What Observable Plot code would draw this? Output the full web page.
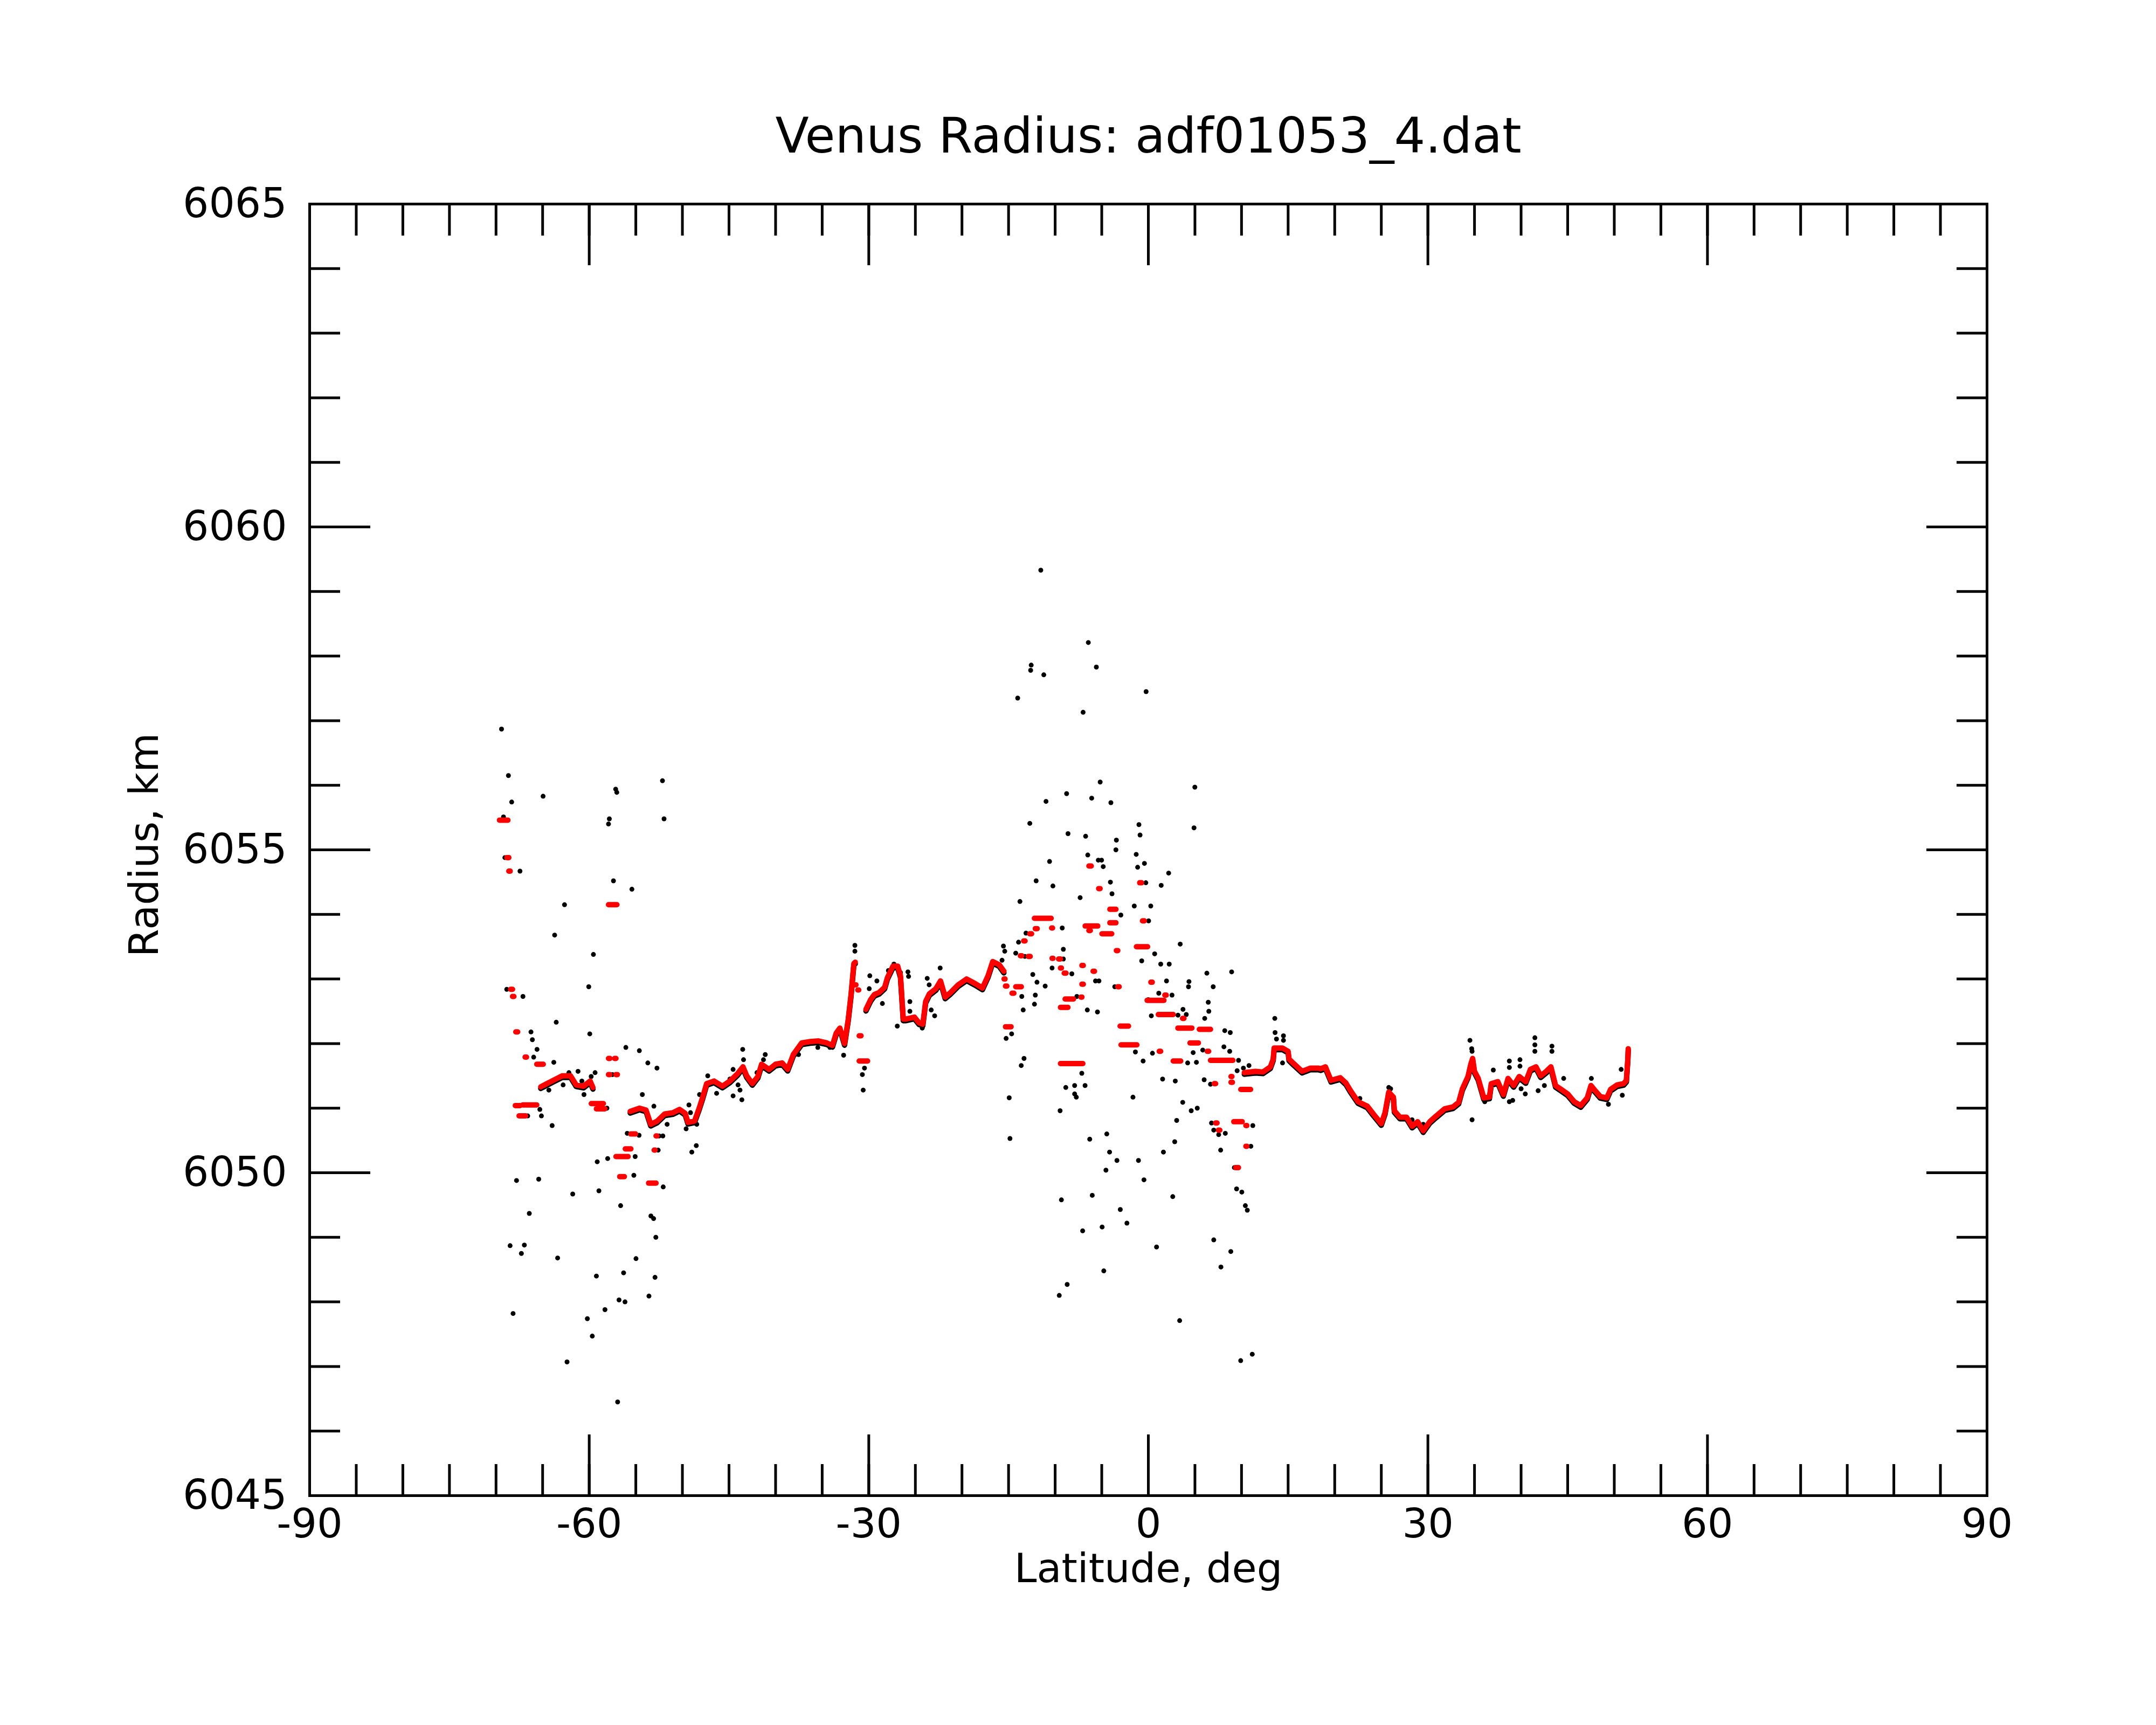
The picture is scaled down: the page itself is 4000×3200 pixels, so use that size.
<!DOCTYPE html>
<html><head><meta charset="utf-8">
<script src="https://cdn.jsdelivr.net/npm/d3@7"></script>
<script src="https://cdn.jsdelivr.net/npm/@observablehq/plot@0.6"></script>
<style>html,body{margin:0;padding:0;background:#fff;}</style>
</head><body><div id="chart"></div>
<script>
// Main continuous trace (null = gap)
const traceLat = [
-65.2,-64.0,-62.9,-62.0,-61.4,-60.6,-59.9,-59.6, null,
-55.6,-54.6,-53.9,-53.4,-52.7,-51.9,-51.0,-50.3,-49.7,-49.4,-48.7,-48.2,-47.8,-47.4,-46.6,-45.7,-44.9,-44.1,-43.5,-43.1,-42.5,-41.9,-41.5,-40.7,-40.0,-39.3,-38.7,-38.1,-37.2,-36.3,-35.4,-34.5,-33.9,-33.5,-33.1,-32.6,-32.2,-31.9,-31.6,-31.45, null,
-30.3,-29.8,-29.4,-28.9,-28.3,-28.0,-27.4,-26.9,-26.6,-26.3,-26.0,-25.1,-24.6,-24.2,-23.9,-23.5,-22.8,-22.3,-21.8,-21.3,-20.4,-19.5,-18.6,-17.8,-17.2,-16.7,-16.0,-15.5, null,
10.3,11.5,12.3,13.1,13.4,13.5,14.4,15.0,15.1,15.6,16.5,17.4,18.2,18.5,19.0,19.6,20.6,21.2,21.7,22.5,23.5,24.2,25.0,25.4,25.8,26.3,26.4,27.0,27.7,28.3,28.9,29.5,30.2,30.9,31.8,32.7,33.3,33.7,34.3,34.6,34.8,35.0,35.4,36.0,36.6,36.8,37.5,38.1,38.6,39.2,39.8,40.5,41.0,41.6,42.1,42.7,43.2,43.7,44.3,45.0,45.7,46.4,47.1,47.5,47.9,48.5,49.2,49.6,50.3,51.0,51.3,51.35,51.45,51.5
];
const traceRad = [
6051.33,6051.42,6051.50,6051.50,6051.36,6051.34,6051.42,6051.32, null,
6050.95,6051.00,6050.97,6050.75,6050.80,6050.91,6050.93,6050.98,6050.92,6050.78,6050.80,6051.00,6051.18,6051.38,6051.42,6051.34,6051.42,6051.53,6051.64,6051.50,6051.38,6051.49,6051.68,6051.60,6051.68,6051.70,6051.60,6051.83,6052.01,6052.03,6052.04,6052.01,6051.97,6052.16,6052.24,6052.00,6052.38,6052.76,6053.24,6053.26, null,
6052.53,6052.68,6052.76,6052.79,6052.87,6053.02,6053.20,6053.20,6053.05,6052.38,6052.38,6052.41,6052.32,6052.30,6052.65,6052.77,6052.85,6052.97,6052.72,6052.78,6052.91,6053.00,6052.93,6052.86,6053.05,6053.27,6053.22,6053.12, null,
6051.55,6051.57,6051.56,6051.64,6051.76,6051.93,6051.93,6051.88,6051.76,6051.69,6051.57,6051.62,6051.62,6051.61,6051.64,6051.43,6051.47,6051.39,6051.27,6051.10,6051.03,6050.90,6050.76,6050.93,6051.25,6051.17,6050.96,6050.86,6050.86,6050.72,6050.79,6050.65,6050.79,6050.88,6050.99,6051.02,6051.09,6051.30,6051.49,6051.68,6051.77,6051.57,6051.46,6051.16,6051.17,6051.38,6051.41,6051.21,6051.46,6051.35,6051.49,6051.41,6051.60,6051.64,6051.50,6051.57,6051.64,6051.35,6051.29,6051.22,6051.10,6051.04,6051.16,6051.35,6051.28,6051.18,6051.16,6051.29,6051.36,6051.38,6051.43,6051.54,6051.75,6051.92
];

// Red runs of points at one radius (start lat, end lat, radius)
const redLat1 = [-69.6,-68.8,-68.6,-68.4,-68.2,-67.85,-66.85,-65.6,-67.9,-67.1,-67.5,-57.9,-59.75,-59.2,-57.9,-57.25,-57.9,-57.1,-56.7,-57.1,-56.1,-55.5,-53.6,-53.0,-52.8,-31.0,-31.45,-31.15,-31.0,
 -15.3,-15.3,-15.45,-14.2,-14.6,-13.7,-12.85,-13.35,-12.7,-12.1,-12.2,-10.35,-10.3,-9.6,-9.4,-9.0,-8.9,-9.4,-9.4,-7.1,-7.1,-5.9,-7.2,-6.75,-4.95,-6.35,-4.1,-4.1,-6.35,-5.3,-3.4,-1.25,-0.9,-0.6,-3.25,-3.0,-2.9,
 0.3,-0.1,1.1,1.8,1.2,2.7,3.7,3.2,4.5,5.5,6.35,6.7,7.1,8.9,8.9,9.95,9.2,7.25,7.55,10.5,10.5,9.4];
const redLat2 = [-68.7,-68.6,-68.45,-68.2,-68.05,-67.65,-66.7,-64.9,-67.4,-65.6,-66.8,-57.0,-58.45,-58.3,-57.75,-57.1,-57.75,-56.95,-56.2,-55.8,-55.5,-55.0,-52.8,-52.9,-52.7,-30.1,-31.35,-31.05,-30.8,
 -14.7,-15.15,-15.35,-13.6,-14.4,-13.55,-12.65,-13.2,-12.5,-11.9,-10.4,-10.25,-10.2,-9.4,-9.3,-8.8,-8.0,-8.6,-7.0,-6.95,-6.95,-5.75,-7.1,-5.4,-3.9,-6.2,-3.45,-3.45,-6.1,-5.15,-3.25,-0.05,-0.7,-0.4,-3.1,-2.1,-1.2,
 0.45,1.7,2.7,1.95,1.35,3.5,3.85,4.7,5.4,6.7,6.5,9.1,7.25,9.0,9.05,11.0,10.1,7.4,7.7,10.6,10.6,9.7];
const redRad = [6055.46,6054.88,6054.67,6052.84,6052.73,6052.18,6051.79,6051.68,6051.04,6051.05,6050.88,6054.15,6051.07,6050.99,6051.77,6051.77,6051.52,6051.52,6049.94,6050.25,6050.37,6050.60,6049.84,6050.35,6050.57,6051.73,6052.91,6052.83,6052.12,
 6052.26,6052.89,6053.00,6052.88,6052.78,6053.36,6053.35,6053.59,6053.70,6053.78,6053.94,6053.79,6053.32,6053.31,6053.17,6053.09,6052.69,6052.56,6051.69,6053.21,6052.92,6053.12,6052.72,6053.82,6053.70,6053.75,6054.08,6053.87,6054.75,6054.40,6053.44,6053.50,6054.49,6053.90,6052.88,6052.27,6051.98,
 6052.95,6052.67,6052.45,6052.75,6051.88,6051.73,6052.39,6052.24,6052.01,6052.22,6051.88,6051.74,6051.38,6051.49,6051.40,6051.29,6050.79,6050.77,6050.66,6050.73,6050.41,6050.08];

// Black scattered samples
const blackLat = [
-69.41,-68.67,-68.32,-64.95,-69.2,-69.05,-67.43,-62.65,-63.71,-59.55,-60.05,-59.94,-63.54,-68.85,-67.11,-66.25,-66.10,-65.6,-65.96,-63.80,-66.6,-65.3,-65.13,-64.33,-62.8,-63.98,-61.2,-62.18,-60.79,-60.56,-59.79,-59.37,-58.7,-58.1,-57.5,-56.07,-54.62,-53.71,-52.73,
-67.8,-65.42,-61.77,-58.96,-59.14,-58.02,-66.43,-68.49,-66.96,-67.28,-63.39,-68.17,-59.23,-60.2,-59.67,-62.38,-56.95,-58.31,-56.8,-56.16,-56.31,-54.98,-53.59,-52.94,-52.85,-53.38,-53.09,-56.63,-55.21,-52.06,
-57.84,-57.93,-57.16,-57.04,-57.40,-55.42,-52.14,-51.97,-55.92,-54.65,-55.07,-51.64,-53.06,-52.5,-52.1,-52.6,-48.99,-48.51,-49.3,-49.6,-47.28,-46.33,-44.56,-43.62,-44.03,-43.82,-43.53,-43.44,-41.11,-41.3,-44.56,-44.9,-48.46,-48.16,-49.13,-42.0,-40.3,-54.3,
-32.7,-34.17,-35.47,-37.54,-31.49,-31.49,-30.69,-30.46,-30.6,-29.89,-29.95,-29.13,-28.54,-27.89,-26.94,-27.3,-26.6,
-25.8,-25.73,-23.73,-23.52,-22.34,-25.59,-23.3,-22.93,-25.59,-24.26,
-11.54,-6.44,-12.57,-12.63,-11.22,-5.58,-14.02,-0.24,-7.0,-5.17,4.99,-8.77,-10.98,-6.08,-4.02,-12.72,-1.01,-0.89,4.9,-8.62,-6.73,-3.43,-3.48,-6.5,-1.3,-5.37,-5.02,-10.6,-4.84,-1.15,-0.42,2.18,-12.04,-10.24,-4.07,-3.9,-0.27,1.38,-7.32,-13.78,-1.51,0.26,-2.95,-9.24,0.03,-13.13,3.42,
-13.93,-15.55,-15.41,-15.7,-9.12,-9.12,-13.25,-14.23,-0.71,0.68,1.33,2.24,-10.33,-8.21,-12.4,-11.95,-11.07,-13.58,-12.13,-12.22,-13.43,-6.55,-5.46,-5.67,-5.3,-3.6,1.95,4.36,4.31,6.28,8.94,6.96,6.43,6.49,1.12,2.54,3.72,4.07,0.32,3.18,6.05,13.57,0.0,-7.67,
8.2,8.79,8.11,8.73,9.68,10.2,10.8,-1.39,-0.56,0.44,4.22,4.81,5.16,5.84,6.67,7.14,5.99,1.53,2.89,9.53,-1.65,3.69,4.6,5.25,3.04,6.78,7.02,7.55,8.26,11.21,7.76,11.0,2.83,1.62,9.23,9.47,10.03,10.41,10.62,2.62,7.02,8.85,7.79,0.88,3.36,9.91,11.15,
-9.47,-8.86,-7.91,-6.79,-7.91,-7.73,-7.14,-6.29,-4.46,-4.16,-3.37,-4.55,-1.06,-0.47,-9.33,-6.02,-3.01,-2.3,-7.05,-4.96,-4.78,-8.71,-9.56,-14.93,-14.85,-13.34,-13.64,-14.67,-15.26,
13.6,13.75,14.5,14.5,14.4,34.51,34.7,34.74,34.74,37.02,38.74,38.74,38.74,39.88,39.88,41.48,41.48,41.48,43.31,43.31,44.57,47.54,50.74,50.86,49.37,40.45,41.83,39.1,37.3,36.1,40.0,42.5,25.8,26.0,24.6,22.7,29.5,28.3
];
const blackRad = [
6056.87,6056.15,6055.74,6055.83,6055.51,6054.88,6054.67,6054.15,6053.68,6053.38,6052.88,6052.15,6052.33,6052.84,6052.73,6052.18,6052.06,6051.91,6051.79,6051.71,6050.88,6050.98,6050.88,6051.28,6051.36,6050.73,6051.57,6051.55,6051.42,6051.21,6051.49,6051.55,6051.07,6051.00,6051.52,6051.94,6051.89,6051.70,6051.62,
6049.88,6049.90,6049.67,6049.72,6050.17,6050.22,6049.37,6048.87,6048.88,6048.75,6048.68,6047.82,6048.40,6047.74,6047.47,6047.07,6046.45,6047.88,6048.03,6048.00,6048.45,6048.67,6048.09,6048.38,6049.00,6049.33,6049.29,6049.49,6049.96,6049.78,
6055.48,6055.40,6055.94,6055.89,6054.52,6054.39,6056.07,6055.48,6050.61,6050.58,6050.25,6050.75,6051.03,6050.57,6050.57,6050.35,6050.32,6050.42,6051.05,6050.68,6051.50,6051.23,6051.19,6051.13,6051.36,6051.28,6051.91,6051.75,6051.83,6051.75,6051.60,6051.45,6050.75,6051.21,6050.93,6051.55,6051.62,6051.21,
6051.82,6051.94,6051.94,6051.83,6053.52,6053.43,6051.52,6051.62,6051.28,6053.05,6052.85,6052.97,6052.62,6053.13,6052.27,6053.23,6053.10,
6053.11,6053.04,6053.01,6052.91,6053.17,6052.65,6052.52,6052.43,6052.50,6052.24,
6059.33,6058.21,6057.86,6057.78,6057.71,6057.83,6057.35,6057.45,6057.13,6056.05,6055.97,6055.87,6055.75,6055.80,6055.73,6055.41,6055.39,6055.23,6055.34,6055.25,6055.21,6055.15,6055.00,6054.92,6054.93,6054.84,6054.84,6054.82,6054.74,6054.73,6054.79,6054.64,6054.52,6054.44,6054.50,6054.32,6054.49,6054.45,6054.26,6054.20,6054.13,6054.13,6053.99,6053.79,6053.90,6053.71,6053.54,
6053.57,6053.51,6053.43,6053.29,6053.46,6053.31,6053.35,6053.40,6053.28,6053.39,6053.23,6053.23,6053.17,6053.08,6053.07,6052.95,6052.89,6052.73,6052.75,6052.61,6052.52,6052.52,6052.49,6052.97,6052.97,6052.88,6052.97,6052.96,6052.88,6053.09,6053.11,6052.88,6052.64,6052.50,6052.78,6052.75,6052.53,6052.45,6052.43,6052.44,6052.39,6052.39,6052.68,6052.73,
6052.20,6052.17,6051.95,6051.88,6051.74,6051.62,6051.66,6051.87,6051.73,6051.85,6051.70,6051.86,6051.71,6051.90,6051.37,6051.38,6051.44,6051.45,6051.42,6051.58,6051.17,6051.09,6050.96,6051.00,6050.81,6050.77,6050.66,6050.59,6050.61,6050.73,6050.35,6050.41,6050.48,6050.32,6050.08,6049.75,6049.70,6049.49,6049.42,6049.63,6048.96,6048.78,6048.54,6048.85,6047.71,6047.09,6047.19,
6050.96,6051.32,6051.35,6051.35,6051.22,6051.17,6051.54,6050.52,6050.60,6050.32,6050.19,6050.04,6050.19,6049.89,6049.58,6049.65,6049.43,6049.22,6049.10,6049.16,6048.48,6048.27,6048.10,6051.16,6050.53,6051.77,6051.66,6052.15,6052.08,
6052.17,6052.07,6052.12,6052.05,6051.70,6052.05,6051.92,6051.88,6050.82,6051.59,6051.73,6051.63,6051.10,6051.75,6051.65,6052.09,6051.98,6051.88,6051.96,6051.88,6051.46,6051.46,6051.60,6051.20,6051.06,6051.22,6051.27,6051.12,6051.40,6051.10,6051.30,6051.35,6051.32,6051.30,6050.82,6051.15,6050.75,6050.82
];

const xMajor = [-90,-60,-30,0,30,60,90];
const xMinor = [-90,-85,-80,-75,-70,-65,-60,-55,-50,-45,-40,-35,-30,-25,-20,-15,-10,-5,0,5,10,15,20,25,30,35,40,45,50,55,60,65,70,75,80,85,90];
const yMajor = [6045,6050,6055,6060,6065];
const yMinor = [6045,6046,6047,6048,6049,6050,6051,6052,6053,6054,6055,6056,6057,6058,6059,6060,6061,6062,6063,6064,6065];

const titleText = "Venus Radius: adf01053_4.dat";
const xLabel = "Latitude, deg";
const yLabel = "Radius, km";

const trace = traceLat.map((x, i) => ({x, y: traceRad[i]}));
const reds = redLat1.map((x1, i) => ({x1, x2: redLat2[i], y: redRad[i]}));
const blacks = blackLat.map((x, i) => ({x, y: blackRad[i]}));

const W = 4000, H = 3200;
const mL = 574, mR = 314, mT = 378, mB = 426;
const LW = 5;

const chart = Plot.plot({
  width: W, height: H,
  marginLeft: mL, marginRight: mR, marginTop: mT, marginBottom: mB,
  style: {fontFamily: "DejaVu Sans", fontSize: "75px", background: "white", color: "black"},
  x: {domain: [-90, 90], axis: null},
  y: {domain: [6045, 6065], axis: null},
  marks: [
    Plot.line(trace, {x: "x", y: "y", stroke: "black", strokeWidth: 10, dy: 3, strokeLinejoin: "round", strokeLinecap: "round"}),
    Plot.dot(blacks, {x: "x", y: "y", r: 4.5, fill: "black", stroke: "none"}),
    Plot.ruleY(reds, {x1: "x1", x2: "x2", y: "y", stroke: "red", strokeWidth: 10, strokeLinecap: "round"}),
    Plot.line(trace, {x: "x", y: "y", stroke: "red", strokeWidth: 10, strokeLinejoin: "round", strokeLinecap: "round"}),
    // inward ticks on all four sides
    Plot.axisX({anchor: "bottom", ticks: xMinor, tickSize: -58, strokeWidth: LW, fill: "none", label: null}),
    Plot.axisX({anchor: "bottom", ticks: xMajor, tickSize: -113, strokeWidth: LW, fill: "none", label: null}),
    Plot.axisX({anchor: "top", ticks: xMinor, tickSize: -58, strokeWidth: LW, fill: "none", label: null}),
    Plot.axisX({anchor: "top", ticks: xMajor, tickSize: -113, strokeWidth: LW, fill: "none", label: null}),
    Plot.axisY({anchor: "left", ticks: yMinor, tickSize: -57, strokeWidth: LW, fill: "none", label: null}),
    Plot.axisY({anchor: "left", ticks: yMajor, tickSize: -113, strokeWidth: LW, fill: "none", label: null}),
    Plot.axisY({anchor: "right", ticks: yMinor, tickSize: -57, strokeWidth: LW, fill: "none", label: null}),
    Plot.axisY({anchor: "right", ticks: yMajor, tickSize: -113, strokeWidth: LW, fill: "none", label: null}),
    // tick labels
    Plot.axisX({anchor: "bottom", ticks: xMajor, tickSize: 0, tickPadding: 24, label: null, fontSize: 75, tickFormat: d => String(d)}),
    Plot.axisY({anchor: "left", ticks: yMajor, tickSize: 0, tickPadding: 42, label: null, fontSize: 76, tickFormat: d => String(d)}),
    Plot.frame({stroke: "black", strokeWidth: LW}),
    // title & axis labels
    Plot.text([titleText], {frameAnchor: "top", dy: -96, lineAnchor: "bottom", textAnchor: "middle", fontSize: 91, text: d => d}),
    Plot.text([xLabel], {frameAnchor: "bottom", dy: 160, lineAnchor: "bottom", textAnchor: "middle", fontSize: 75, text: d => d}),
    Plot.text([yLabel], {frameAnchor: "left", dx: -282, dy: -9, rotate: -90, lineAnchor: "bottom", textAnchor: "middle", fontSize: 75, text: d => d})
  ]
});
document.getElementById("chart").appendChild(chart);
</script>
</body></html>
